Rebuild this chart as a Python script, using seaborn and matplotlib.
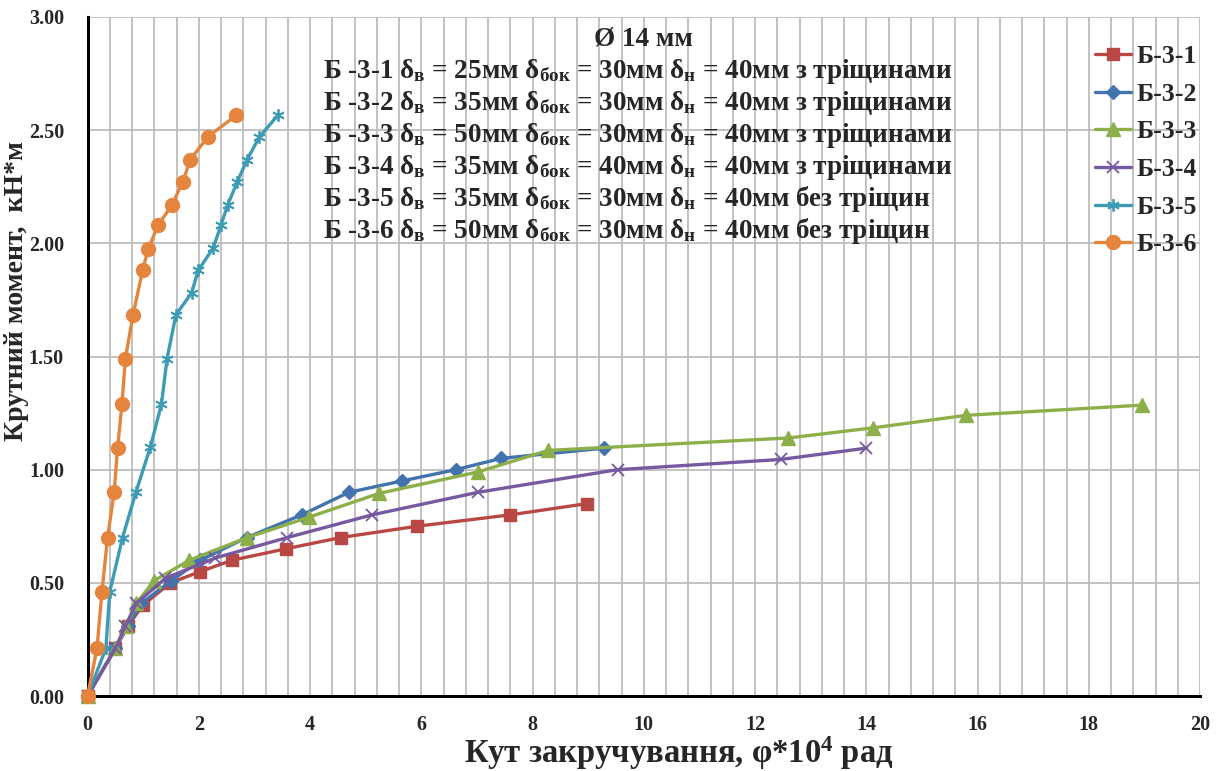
import numpy as np
import matplotlib
matplotlib.use("Agg")
import matplotlib.pyplot as plt
import seaborn as sns

# series: twist angle (x, phi*10^4 rad) and torque (y, kN*m)
b31_x = [0.0, 0.50, 0.73, 0.99, 1.49, 2.03, 2.60, 3.56, 4.55, 5.92, 7.59, 8.98]
b31_y = [0.0, 0.21, 0.31, 0.40, 0.50, 0.55, 0.60, 0.65, 0.70, 0.75, 0.80, 0.85]

b32_x = [0.0, 0.50, 0.72, 0.97, 1.51, 2.03, 2.86, 3.85, 4.70, 5.65, 6.62, 7.44, 9.28]
b32_y = [0.0, 0.21, 0.31, 0.41, 0.51, 0.60, 0.70, 0.80, 0.90, 0.95, 1.00, 1.05, 1.095]

b33_x = [0.0, 0.50, 0.70, 0.88, 1.20, 1.83, 2.87, 3.98, 5.24, 7.02, 8.28, 12.60, 14.13, 15.79, 18.95]
b33_y = [0.0, 0.21, 0.31, 0.41, 0.51, 0.60, 0.70, 0.79, 0.895, 0.99, 1.085, 1.14, 1.185, 1.24, 1.285]

b34_x = [0.0, 0.50, 0.68, 0.88, 1.40, 2.30, 3.59, 5.11, 7.02, 9.53, 12.46, 14.00]
b34_y = [0.0, 0.21, 0.31, 0.41, 0.52, 0.61, 0.70, 0.80, 0.90, 1.00, 1.045, 1.095]

b35_x = [0.0, 0.33, 0.40, 0.63, 0.87, 1.13, 1.33, 1.43, 1.59, 1.87, 1.99, 2.26, 2.40, 2.52, 2.69, 2.87, 3.09, 3.42]
b35_y = [0.0, 0.21, 0.46, 0.70, 0.90, 1.10, 1.29, 1.49, 1.685, 1.78, 1.88, 1.98, 2.08, 2.17, 2.27, 2.37, 2.47, 2.565]

b36_x = [0.0, 0.17, 0.26, 0.36, 0.48, 0.54, 0.62, 0.68, 0.82, 0.99, 1.09, 1.27, 1.52, 1.71, 1.85, 2.16, 2.67]
b36_y = [0.0, 0.21, 0.46, 0.70, 0.90, 1.095, 1.29, 1.49, 1.685, 1.88, 1.975, 2.08, 2.17, 2.27, 2.37, 2.47, 2.565]

labels = ["Б-3-1", "Б-3-2", "Б-3-3", "Б-3-4", "Б-3-5", "Б-3-6"]
colors = ["#B94845", "#4273AF", "#8DAF4A", "#7659A0", "#3E9BB5", "#E5843C"]

info_lines = [
    r"Б -3-1 $\mathrm{δ}_{\mathrm{в}}$ = 25мм $\mathrm{δ}_{\mathrm{бок}}$ = 30мм $\mathrm{δ}_{\mathrm{н}}$ = 40мм з тріщинами",
    r"Б -3-2 $\mathrm{δ}_{\mathrm{в}}$ = 35мм $\mathrm{δ}_{\mathrm{бок}}$ = 30мм $\mathrm{δ}_{\mathrm{н}}$ = 40мм з тріщинами",
    r"Б -3-3 $\mathrm{δ}_{\mathrm{в}}$ = 50мм $\mathrm{δ}_{\mathrm{бок}}$ = 30мм $\mathrm{δ}_{\mathrm{н}}$ = 40мм з тріщинами",
    r"Б -3-4 $\mathrm{δ}_{\mathrm{в}}$ = 35мм $\mathrm{δ}_{\mathrm{бок}}$ = 40мм $\mathrm{δ}_{\mathrm{н}}$ = 40мм з тріщинами",
    r"Б -3-5 $\mathrm{δ}_{\mathrm{в}}$ = 35мм $\mathrm{δ}_{\mathrm{бок}}$ = 30мм $\mathrm{δ}_{\mathrm{н}}$ = 40мм без тріщин",
    r"Б -3-6 $\mathrm{δ}_{\mathrm{в}}$ = 50мм $\mathrm{δ}_{\mathrm{бок}}$ = 30мм $\mathrm{δ}_{\mathrm{н}}$ = 40мм без тріщин",
]

sns.set_style("white")
plt.rcParams["font.family"] = ["Liberation Serif", "DejaVu Serif"]
plt.rcParams["font.weight"] = "bold"
plt.rcParams["mathtext.fontset"] = "custom"
plt.rcParams["mathtext.rm"] = "Liberation Serif:bold"
plt.rcParams["mathtext.it"] = "Liberation Serif:italic:bold"
plt.rcParams["mathtext.bf"] = "Liberation Serif:bold"

fig = plt.figure(figsize=(12.2, 7.71), dpi=100)
ax = fig.add_axes([87.5 / 1220, 1 - 696 / 771, 1112.5 / 1220, 679 / 771])

series = [
    (b31_x, b31_y, "s", 9, 1.0),
    (b32_x, b32_y, "D", 7, 1.0),
    (b33_x, b33_y, "^", 9.5, 1.0),
    (b34_x, b34_y, "x", 9, 1.3),
    (b35_x, b35_y, (6, 2, 0), 9, 1.3),
    (b36_x, b36_y, "o", 10, 1.0),
]

for (xs, ys, mk, ms, mew), lab, col in zip(series, labels, colors):
    sns.lineplot(x=xs, y=ys, ax=ax, sort=False, color=col, linewidth=2.4,
                 marker=mk, markersize=ms, markeredgecolor=col,
                 markeredgewidth=mew, label=lab, clip_on=False, zorder=3)

ax.set_xlim(0, 20)
ax.set_ylim(0, 3)
ax.set_xticks(np.arange(0, 21, 2))
ax.set_xticks(np.arange(0, 20.01, 0.4), minor=True)
ax.set_yticks(np.arange(0, 3.01, 0.5))
ax.set_yticklabels([f"{v:.2f}" for v in np.arange(0, 3.01, 0.5)])
ax.grid(True, which="major", color="#BDBDBD", linewidth=1.3)
ax.grid(True, which="minor", axis="x", color="#BDBDBD", linewidth=1.3)
ax.set_axisbelow(True)

for s in ["top", "right"]:
    ax.spines[s].set_visible(False)
for s in ["left", "bottom"]:
    ax.spines[s].set_color("black")
    ax.spines[s].set_linewidth(2.2)
    ax.spines[s].set_zorder(2.5)

ax.tick_params(axis="both", which="major", direction="out", length=5, width=2,
               color="black", labelsize=14.5)
ax.tick_params(axis="y", pad=12)
ax.tick_params(axis="x", pad=9)
ax.tick_params(axis="x", which="minor", length=0)
for t in ax.get_xticklabels() + ax.get_yticklabels():
    t.set_fontweight("bold")

ax.set_xlabel("Кут закручування, φ*10$^{4}$ рад", fontsize=23.5, fontweight="bold")
ax.set_ylabel("Крутний момент,  кН*м", fontsize=20, fontweight="bold")
ax.xaxis.set_label_coords(0.531, -0.056)
ax.yaxis.set_label_coords(-0.053, 0.596)

fig.text(643 / 1220, 1 - 39 / 771, "Ø 14 мм", ha="center", va="center",
         fontsize=19.5, fontweight="bold")
for i, line in enumerate(info_lines):
    fig.text(323 / 1220, 1 - (72 + 31.8 * i) / 771, line, ha="left", va="center",
             fontsize=19.5, fontweight="bold")

leg = ax.legend(loc="upper left", bbox_to_anchor=(1095 / 1220, 1 - 45 / 771),
                bbox_transform=fig.transFigure, frameon=False, fontsize=18.5,
                handlelength=1.4, labelspacing=0.57, handletextpad=0.2,
                borderaxespad=0, borderpad=0)
for t in leg.get_texts():
    t.set_fontweight("bold")

fig.savefig("out.png", dpi=100)
plt.close(fig)
